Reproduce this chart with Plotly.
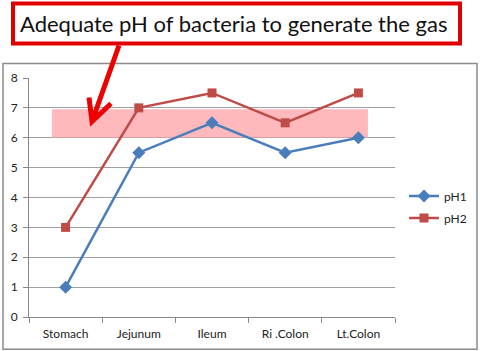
import plotly.graph_objects as go

categories = ["Stomach", "Jejunum", "Ileum", "Ri .Colon", "Lt.Colon"]
ph1 = [1, 5.5, 6.5, 5.5, 6]
ph2 = [3, 7, 7.5, 6.5, 7.5]
band_low, band_high = 6, 6.95
y_ticks = [0, 1, 2, 3, 4, 5, 6, 7, 8]
title_text = "Adequate pH of bacteria to generate the gas"

W, H = 480, 351
L, R, T, B = 29, 395, 77.5, 316.7
pw, ph = R - L, B - T


def px(x):
    return (x - L) / pw


def py(y):
    return (B - y) / ph


FONT = "Lato"

fig = go.Figure()
fig.add_trace(go.Scatter(
    x=categories, y=ph1, name="pH1", mode="lines+markers",
    line=dict(color="#4A7EBB", width=2.5),
    marker=dict(symbol="diamond", size=10, color="#4A7EBB"),
    legendgroup="a",
))
fig.add_trace(go.Scatter(
    x=categories, y=ph2, name="pH2", mode="lines+markers",
    line=dict(color="#BE4B48", width=2.5),
    marker=dict(symbol="square", size=9, color="#BE4B48"),
    legendgroup="b",
))

# pink band
fig.add_shape(type="rect", xref="x", yref="y",
              x0=-0.186, x1=4.13, y0=band_low, y1=band_high,
              fillcolor="rgba(255,160,165,0.75)", line=dict(width=0),
              layer="between")

# chart border
fig.add_shape(type="rect", xref="paper", yref="paper",
              x0=px(3), x1=px(477), y0=py(63), y1=py(349),
              line=dict(color="#8a8a8a", width=1.5), layer="below")

# title box
fig.add_shape(type="rect", xref="paper", yref="paper",
              x0=px(13), x1=px(460), y0=py(3), y1=py(43),
              fillcolor="white", line=dict(color="#e00000", width=4))
fig.add_annotation(xref="paper", yref="paper", x=px(234), y=py(23),
                   text=title_text, showarrow=False,
                   font=dict(family=FONT, size=22, color="#111"),
                   xanchor="center", yanchor="middle")

# arrow
path = (f"M {px(119)},{py(45)} L {px(92)},{py(121)} "
        f"M {px(89)},{py(97)} L {px(92)},{py(121)} L {px(111)},{py(103)}")
fig.add_shape(type="path", xref="paper", yref="paper", path=path,
              line=dict(color="#ee0000", width=5))

fig.update_layout(
    width=W, height=H,
    margin=dict(l=L, r=W - R, t=T, b=H - B, pad=0, autoexpand=False),
    paper_bgcolor="white", plot_bgcolor="white",
    font=dict(family=FONT, size=12, color="#222"),
    showlegend=True,
    legend=dict(x=px(404), y=py(181), xanchor="left", yanchor="top",
                font=dict(size=12, color="#222"), tracegroupgap=3,
                bgcolor="rgba(0,0,0,0)", itemwidth=30),
    xaxis=dict(type="category", range=[-0.5, 4.5], tickson="boundaries",
               ticks="outside", ticklen=5, tickcolor="#888",
               showline=True, linecolor="#888", linewidth=1,
               showgrid=False, tickfont=dict(size=12, color="#222"),
               ticklabelstandoff=6),
    yaxis=dict(range=[0, 8], tickvals=y_ticks, ticks="outside", ticklen=5,
               tickcolor="#888", showline=True, linecolor="#888",
               linewidth=1, showgrid=True, gridcolor="#a0a0a0",
               gridwidth=1, zeroline=False,
               tickfont=dict(size=12, color="#222"),
               ticklabelstandoff=3),
)

fig.write_html("out.html")
